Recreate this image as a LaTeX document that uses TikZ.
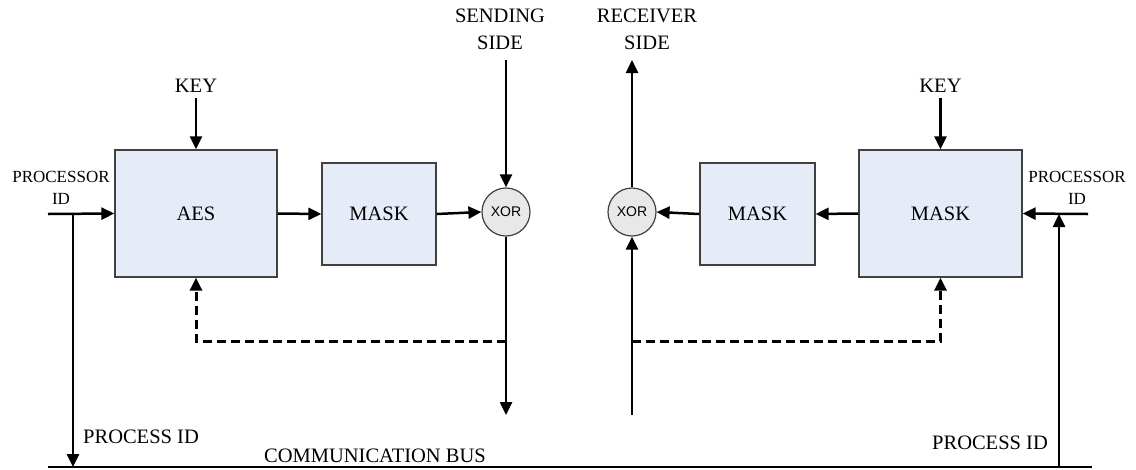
\documentclass[tikz,border=0pt]{standalone}
\usepackage{fontspec}
\setmainfont{Liberation Serif}
\newfontfamily\xorfont{Liberation Sans}
\usetikzlibrary{arrows.meta}
\definecolor{boxblue}{HTML}{E6ECF7}
\definecolor{xorgray}{HTML}{E8E8E8}
\definecolor{edgegray}{HTML}{404040}
\begin{document}
\begin{tikzpicture}[x=1pt,y=-1pt,
  box/.style={draw=edgegray, line width=1.3pt, fill=boxblue, inner sep=0pt,
    font=\fontsize{20.5}{24}\selectfont},
  xorc/.style={circle, draw=edgegray, line width=1.2pt, fill=xorgray, minimum size=48pt,
    inner sep=0pt, font=\xorfont\fontsize{14}{16}\selectfont},
  lbl/.style={align=center, inner sep=0pt, font=\fontsize{20.5}{27}\selectfont},
  plbl/.style={align=center, inner sep=0pt, font=\fontsize{17}{22}\selectfont},
  arr/.style={line width=2.5pt, -{Triangle[length=13pt,width=12pt]}},
  busline/.style={line width=1.8pt},
  dsh/.style={line width=3pt, dash pattern=on 9pt off 5pt, -{Triangle[length=13pt,width=12pt]}}]
\useasboundingbox (0,0) rectangle (1136,469);

% boxes
\node[box, minimum width=162pt, minimum height=127pt] (aes) at (196,213.5) {AES};
\node[box, minimum width=114pt, minimum height=102pt] (mask1) at (379,214) {MASK};
\node[xorc] (xor1) at (506,212) {XOR};
\node[xorc] (xor2) at (632,212) {XOR};
\node[box, minimum width=115pt, minimum height=102pt] (mask2) at (757.5,214) {MASK};
\node[box, minimum width=163pt, minimum height=127pt] (mask3) at (940.5,213.5) {MASK};

% labels
\node[lbl] (keyL) at (196,86) {KEY};
\node[lbl] (keyR) at (940.5,86) {KEY};
\node[lbl] (send) at (500,29.5) {SENDING\\SIDE};
\node[lbl] (recv) at (647,29.5) {RECEIVER\\SIDE};
\node[plbl] (procL) at (61,188) {PROCESSOR\\ID};
\node[plbl] (procR) at (1077,188) {PROCESSOR\\ID};
\node[lbl, anchor=west] (pidL) at (83,437) {PROCESS ID};
\node[lbl] (pidR) at (990,443) {PROCESS ID};
\node[lbl, anchor=west] (bus) at (264,456) {COMMUNICATION BUS};

% coordinates
\coordinate (keyLs) at (196,98);
\coordinate (keyRs) at (940.5,98);
\coordinate (inL) at (48,214);
\coordinate (jL) at (73,214);
\coordinate (busL) at (73,467);
\coordinate (busA) at (48,467);
\coordinate (busB) at (1092,467);
\coordinate (inR) at (1088,214);
\coordinate (jR) at (1059,214);
\coordinate (busR) at (1059,467);
\coordinate (sendS) at (506,60);
\coordinate (recvE) at (632,60);
\coordinate (outL) at (506,415);
\coordinate (inB) at (632,415);
\coordinate (dL) at (506,341);
\coordinate (dR) at (632,341);

% connectors left
\draw[arr] (keyLs) -- (aes.north);
\draw[arr] (inL) -- (aes.west);
\draw[arr] (jL) -- (busL);
\draw[arr] (aes.east) -- (mask1.west);
\draw[arr] (mask1.east) -- (xor1.west);
\draw[arr] (sendS) -- (xor1.north);
\draw[arr] (xor1.south) -- (outL);
\draw[dsh] (dL) -| (aes.south);

% connectors right
\draw[arr] (keyRs) -- (mask3.north);
\draw[arr] (inR) -- (mask3.east);
\draw[arr] (busR) -- (jR);
\draw[arr] (mask3.west) -- (mask2.east);
\draw[arr] (mask2.west) -- (xor2.east);
\draw[arr] (xor2.north) -- (recvE);
\draw[arr] (inB) -- (xor2.south);
\draw[dsh] (dR) -| (mask3.south);

% bus
\draw[busline] (busA) -- (busB);
\end{tikzpicture}
\end{document}
